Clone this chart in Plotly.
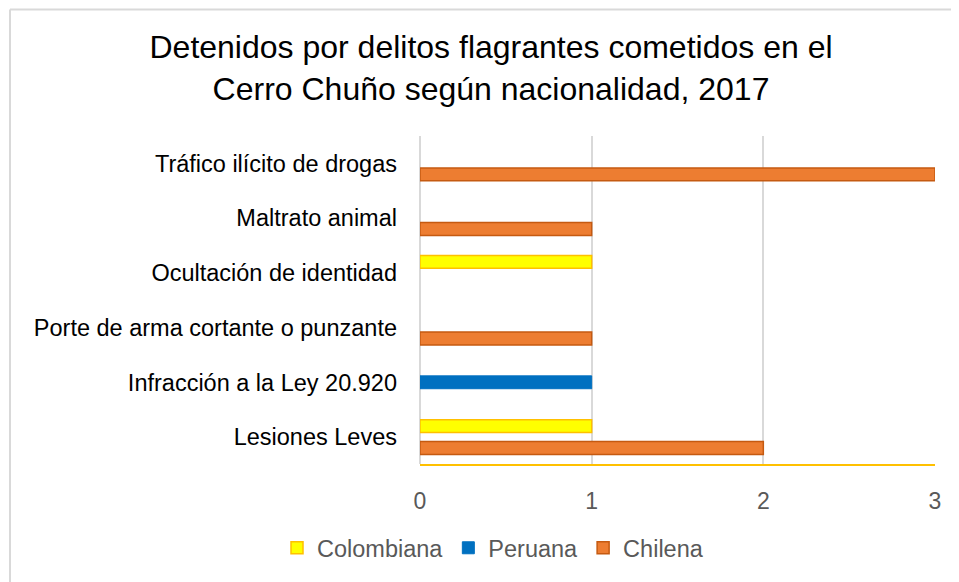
import plotly.graph_objects as go

# ---- data ----
categories = [
    "Lesiones Leves",
    "Infracción a la Ley 20.920",
    "Porte de arma cortante o punzante",
    "Ocultación de identidad",
    "Maltrato animal",
    "Tráfico ilícito de drogas",
]
colombiana = [1, None, None, 1, None, None]
peruana = [None, 1, None, None, None, None]
chilena = [2, None, 1, None, 1, 3]
x_ticks = [0, 1, 2, 3]
title_text = "Detenidos por delitos flagrantes cometidos en el<br>Cerro Chuño según nacionalidad, 2017"

# ---- layout geometry (page body has an 8px margin) ----
W, H = 951, 574
ML, MR, MT, MB = 412, 24, 128, 115
FONT = "Liberation Sans, Arial, sans-serif"

bar_w = 0.235
fig = go.Figure()
fig.add_trace(go.Bar(
    name="Colombiana", y=categories, x=colombiana, orientation="h",
    width=bar_w, offset=0.2 - bar_w / 2,
    marker=dict(color="#FFFF00", line=dict(color="#FFC000", width=1.5)),
))
fig.add_trace(go.Bar(
    name="Peruana", y=categories, x=peruana, orientation="h",
    width=bar_w, offset=-bar_w / 2,
    marker=dict(color="#0070C0", line=dict(color="#0070C0", width=1)),
))
fig.add_trace(go.Bar(
    name="Chilena", y=categories, x=chilena, orientation="h",
    width=bar_w, offset=-0.2 - bar_w / 2,
    marker=dict(color="#ED7D31", line=dict(color="#C55A11", width=1.5)),
))

pw = W - ML - MR
ph = H - MT - MB
def px_x(p):
    return (p - ML) / pw
def px_y(p):
    return (H - MB - p) / ph

border = "#D9D9D9"
shapes = [
    dict(type="line", xref="paper", yref="paper",
         x0=px_x(2), x1=px_x(W + 5), y0=px_y(0.5), y1=px_y(0.5),
         line=dict(color=border, width=2)),
    dict(type="line", xref="paper", yref="paper",
         x0=px_x(2), x1=px_x(2), y0=px_y(0.5), y1=px_y(H + 5),
         line=dict(color=border, width=2)),
]

fig.update_layout(
    width=W, height=H,
    margin=dict(l=ML, r=MR, t=MT, b=MB),
    paper_bgcolor="white", plot_bgcolor="white",
    barmode="overlay",
    font=dict(family=FONT, color="#595959"),
    title=dict(text=title_text, xref="container", x=483 / W, xanchor="center",
               yref="container", y=1 - 50 / H, yanchor="middle",
               font=dict(size=32, color="#000000", family=FONT)),
    xaxis=dict(range=[0, 3], tickvals=x_ticks, showgrid=True, gridcolor="#D9D9D9",
               gridwidth=1.5, zeroline=True, zerolinecolor="#D9D9D9", zerolinewidth=1.5,
               showline=True, linecolor="#FFC000", linewidth=2,
               tickfont=dict(size=23, color="#595959"), ticklabelstandoff=15,
               fixedrange=True),
    yaxis=dict(categoryorder="array", categoryarray=categories, range=[-0.5, 5.5],
               showgrid=False, zeroline=False, showline=False,
               tickfont=dict(size=23.5, color="#000000"), ticklabelstandoff=22,
               fixedrange=True),
    legend=dict(orientation="h", xref="container", x=485 / W, xanchor="center",
                yref="container", y=1 - 540 / H, yanchor="middle",
                font=dict(size=23.5, color="#595959"), itemwidth=30,
                traceorder="normal"),
    shapes=shapes,
    showlegend=True,
)

fig.write_html("out.html")
